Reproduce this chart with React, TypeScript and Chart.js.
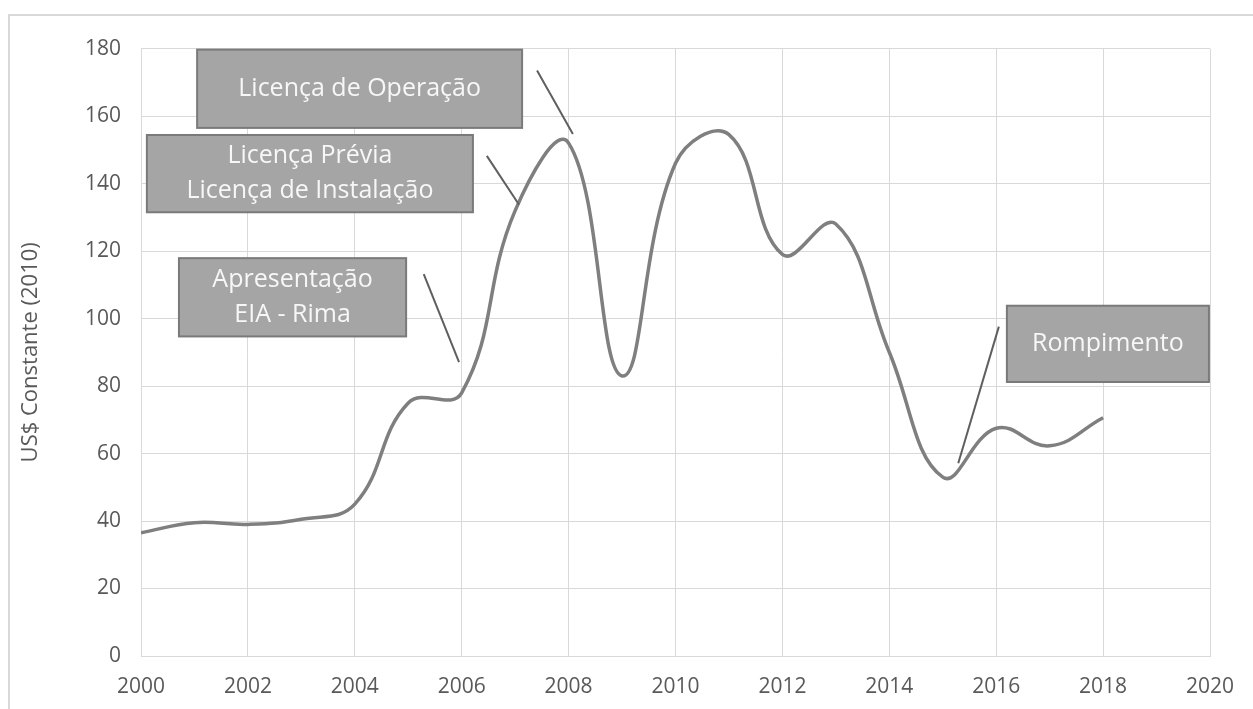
import React, { useEffect, useRef } from "react";
import { Chart, registerables } from "chart.js";

Chart.register(...registerables);

const years = [2000, 2001, 2002, 2003, 2004, 2005, 2006, 2007, 2008, 2009, 2010, 2011, 2012, 2013, 2014, 2015, 2016, 2017, 2018];
const values = [36.5, 39.5, 39, 40.5, 45, 75, 78, 132, 152, 83, 146, 154.5, 119, 128, 90, 53, 67.5, 62.3, 70.6];

const xTickMin = 2000;
const xTickMax = 2020;
const xTickStep = 2;
const yTickMin = 0;
const yTickMax = 180;
const yTickStep = 20;
const yAxisTitle = "US$ Constante (2010)";

const annotationLabels = [
  ["Licença de Operação"],
  ["Licença Prévia", "Licença de Instalação"],
  ["Apresentação", "EIA - Rima"],
  ["Rompimento"],
];
// boxes in data space: [xStart, xEnd, yTop, yBottom]
const annotationBoxes = [
  [2001.05, 2007.13, 179.7, 156.5],
  [2000.11, 2006.21, 154.4, 131.5],
  [2000.71, 2004.96, 117.9, 94.7],
  [2016.2, 2019.98, 103.8, 81.2],
];
// pointer lines in data space: [x1, y1, x2, y2]
const annotationPointers = [
  [2007.41, 173.5, 2008.08, 154.7],
  [2006.47, 148.2, 2007.07, 133.8],
  [2005.29, 113.2, 2005.95, 87.1],
  [2016.05, 97.6, 2015.29, 57.1],
];

const FONT = "'Open Sans', 'Noto Sans', sans-serif";

const annotationPlugin = {
  id: "annotations",
  afterDatasetsDraw(chart: any) {
    const { ctx, scales } = chart;
    const xs = scales.x;
    const ys = scales.y;
    ctx.save();
    annotationPointers.forEach((p) => {
      ctx.beginPath();
      ctx.strokeStyle = "#5f5f5f";
      ctx.lineWidth = 2;
      ctx.moveTo(xs.getPixelForValue(p[0]), ys.getPixelForValue(p[1]));
      ctx.lineTo(xs.getPixelForValue(p[2]), ys.getPixelForValue(p[3]));
      ctx.stroke();
    });
    annotationBoxes.forEach((b, i) => {
      const x0 = xs.getPixelForValue(b[0]);
      const x1 = xs.getPixelForValue(b[1]);
      const y0 = ys.getPixelForValue(b[2]);
      const y1 = ys.getPixelForValue(b[3]);
      ctx.fillStyle = "#a5a5a5";
      ctx.fillRect(x0, y0, x1 - x0, y1 - y0);
      ctx.strokeStyle = "#7a7a7a";
      ctx.lineWidth = 2;
      ctx.strokeRect(x0, y0, x1 - x0, y1 - y0);
      const lines = annotationLabels[i];
      const lh = 35;
      const cx = (x0 + x1) / 2;
      const cy = (y0 + y1) / 2;
      ctx.fillStyle = "#f7f7f7";
      ctx.font = `25px ${FONT}`;
      ctx.textAlign = "center";
      ctx.textBaseline = "middle";
      lines.forEach((t, j) => {
        const ty = cy + (j - (lines.length - 1) / 2) * lh;
        ctx.fillText(t, cx, ty);
      });
    });
    ctx.restore();
  },
};

export default function App() {
  const ref = useRef<HTMLCanvasElement | null>(null);
  useEffect(() => {
    if (!ref.current) return;
    const chart = new Chart(ref.current, {
      type: "line",
      data: {
        datasets: [
          {
            data: years.map((y, i) => ({ x: y, y: values[i] })),
            borderColor: "#7f7f7f",
            borderWidth: 3.5,
            pointRadius: 0,
            tension: 0.42,
            fill: false,
          },
        ],
      },
      options: {
        animation: false,
        responsive: false,
        maintainAspectRatio: false,
        layout: { padding: { top: 28, right: 43, bottom: 0, left: 0 } },
        plugins: { legend: { display: false }, tooltip: { enabled: false } },
        scales: {
          x: {
            type: "linear",
            min: xTickMin,
            max: xTickMax,
            ticks: {
              stepSize: xTickStep,
              color: "#595959",
              font: { family: FONT, size: 21 },
              padding: 18,
              maxRotation: 0,
              callback: (v: any) => String(v),
            },
            grid: { color: "#d9d9d9", lineWidth: 1, drawTicks: false },
            border: { color: "#d9d9d9", width: 1 },
            afterFit: (s: any) => {
              s.height = 53;
            },
          },
          y: {
            min: yTickMin,
            max: yTickMax,
            ticks: {
              stepSize: yTickStep,
              color: "#595959",
              font: { family: FONT, size: 21 },
              padding: 20,
            },
            grid: { color: "#d9d9d9", lineWidth: 1, drawTicks: false },
            border: { color: "#d9d9d9", width: 1 },
            title: {
              display: true,
              text: yAxisTitle,
              color: "#595959",
              font: { family: FONT, size: 22 },
              padding: { top: 8, bottom: 0 },
            },
            afterFit: (s: any) => {
              s.width = 131;
            },
          },
        },
      },
      plugins: [annotationPlugin],
    });
    return () => chart.destroy();
  }, []);
  return (
    <div
      style={{
        position: "absolute",
        left: 8,
        top: 14,
        width: 1262,
        height: 710,
        borderLeft: "2px solid #d9d9d9",
        borderTop: "2px solid #d9d9d9",
        background: "#fff",
      }}
    >
      <canvas ref={ref} width={1243} height={693} style={{ display: "block" }} />
    </div>
  );
}
